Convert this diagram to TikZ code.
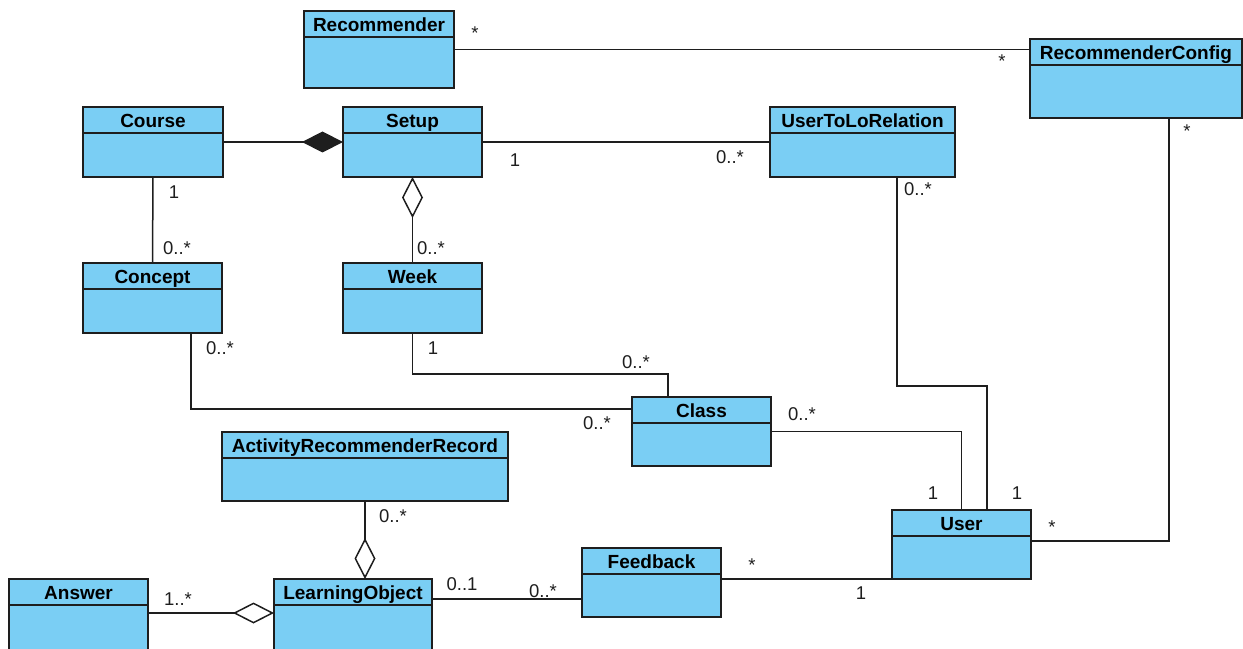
\documentclass[tikz,border=0pt]{standalone}
\usepackage{fontspec}
\setmainfont{Liberation Sans}
\usetikzlibrary{arrows.meta}
\definecolor{classfill}{RGB}{122,206,244}
\definecolor{ink}{RGB}{30,30,30}

\tikzset{
  classbox/.style={draw=ink, line width=1.5bp, fill=classfill, inner sep=0pt, outer sep=0pt},
  classname/.style={font=\bfseries\fontsize{19bp}{22bp}\selectfont, anchor=base, inner sep=0pt, text=black},
  mult/.style={font=\fontsize{18.5bp}{22bp}\selectfont, anchor=base, inner sep=0pt, text=ink},
  assoc/.style={draw=ink, line width=1.5bp},
  agg/.style={assoc, -{Diamond[length=41bp, width=21bp, fill=white]}},
  comp/.style={assoc, -{Diamond[length=41bp, width=21bp, fill=ink]}},
}

% UML class: name, left, top, right, bottom, title
\newcommand\umlclass[6]{%
  \node[classbox, minimum width={(#4-#2)*1bp}, minimum height={(#5-#3)*1bp}] (#1) at ({(#2+#4)/2},{(#3+#5)/2}) {};
  \draw[classbox, fill=none] ([yshift=-26bp]#1.north west) -- ([yshift=-26bp]#1.north east);
  \node[classname] (#1-name) at ([yshift=-20.5bp]#1.north) {#6};
}

\begin{document}
\begin{tikzpicture}[x=1bp, y=-1bp]
\useasboundingbox (0,0) rectangle (1243,649);

% classes
\umlclass{rec}{304}{11}{454}{88}{Recommender}
\umlclass{rc}{1030}{39}{1242}{118}{RecommenderConfig}
\umlclass{course}{83}{107}{223}{177}{Course}
\umlclass{setup}{343}{107}{482}{177}{Setup}
\umlclass{utlr}{770}{107}{955}{177}{UserToLoRelation}
\umlclass{concept}{83}{263}{222}{333}{Concept}
\umlclass{week}{343}{263}{482}{333}{Week}
\umlclass{cls}{632}{397}{771}{466}{Class}
\umlclass{arr}{222}{432}{508}{501}{ActivityRecommenderRecord}
\umlclass{user}{892}{510}{1031}{579}{User}
\umlclass{fb}{582}{548}{721}{617}{Feedback}
\umlclass{ans}{9}{579}{148}{651}{Answer}
\umlclass{lo}{274}{579}{432}{651}{LearningObject}

% bend points of the routed connectors
\coordinate (b1) at (191,409);
\coordinate (b2) at (668,374);
\coordinate (b3) at (897,386);
\coordinate (b4) at (987,386);
\coordinate (b5) at (1169,541);
\coordinate (b6) at (500,599);
\coordinate (b7) at (190,613);

% associations
\draw[assoc] (rec.east) -- (rec.east -| rc.west);
\draw[comp] (course.east) -- (setup.west);
\draw[assoc] (setup.east) -- (utlr.west);
\draw[assoc] (course.south) -- (concept.north);
\draw[agg] (week.north) -- (setup.south);
\draw[assoc] (b1 |- concept.south) -- (b1) -- (b1 -| cls.west);
\draw[assoc] (week.south) |- (b2) -- (b2 |- cls.north);
\draw[assoc] (cls.east) -| (user.north);
\draw[assoc] (b3 |- utlr.south) -- (b3) -- (b4) -- (b4 |- user.north);
\draw[assoc] (b5 |- rc.south) -- (b5) -- (b5 -| user.east);
\draw[assoc] (user.south west -| fb.east) -- (user.south west);
\draw[assoc] (b6 -| lo.east) -- (b6 -| fb.west);
\draw[agg] (arr.south) -- (arr.south |- lo.north);
\draw[agg] (b7 -| ans.east) -- (b7 -| lo.west);

% multiplicities
\node[mult] (m1) at (475,40) {*};
\node[mult] (m2) at (1002,68) {*};
\node[mult] (m3) at (515,167) {1};
\node[mult] (m4) at (730,164) {0..*};
\node[mult] (m5) at (918,196) {0..*};
\node[mult] (m6) at (174,199) {1};
\node[mult] (m7) at (177,254) {0..*};
\node[mult] (m8) at (431,254) {0..*};
\node[mult] (m9) at (220,354) {0..*};
\node[mult] (m10) at (433,354) {1};
\node[mult] (m11) at (636,368) {0..*};
\node[mult] (m12) at (597,429) {0..*};
\node[mult] (m13) at (802,420) {0..*};
\node[mult] (m14) at (933,499) {1};
\node[mult] (m15) at (1017,499) {1};
\node[mult] (m16) at (1052,533) {*};
\node[mult] (m17) at (1187,138) {*};
\node[mult] (m18) at (752,571) {*};
\node[mult] (m19) at (861,599) {1};
\node[mult] (m20) at (462,590) {0..1};
\node[mult] (m21) at (543,597) {0..*};
\node[mult] (m22) at (393,522) {0..*};
\node[mult] (m23) at (178,605) {1..*};
\end{tikzpicture}
\end{document}
